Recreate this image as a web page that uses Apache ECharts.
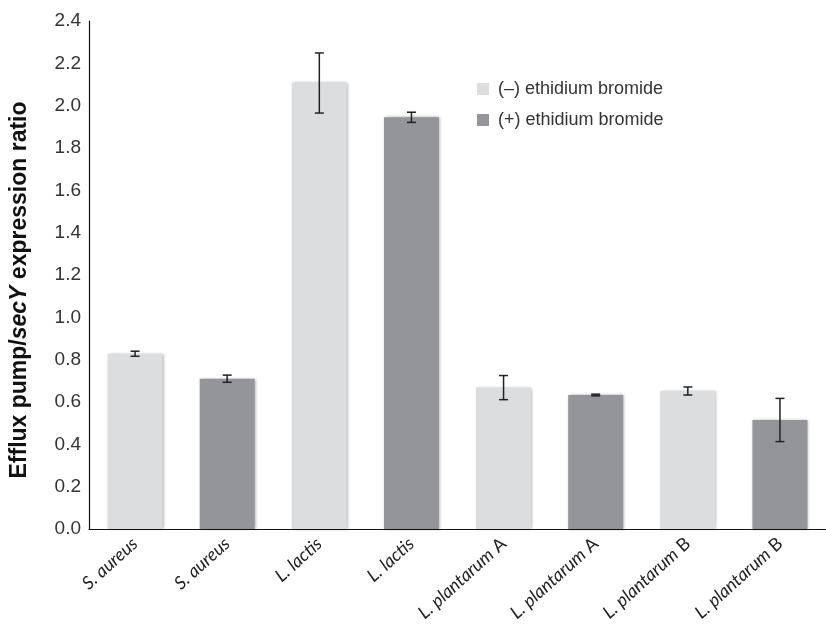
<!DOCTYPE html>
<html>
<head>
<meta charset="utf-8">
<script src="https://cdn.jsdelivr.net/npm/echarts@6/dist/echarts.min.js"></script>
<style>
  html, body { margin: 0; padding: 0; background: #fff; }
  #chart { width: 826px; height: 634px; }
</style>
</head>
<body>
<div id="chart"></div>
<script>
// strain names (italic part) and strain suffix (upright part)
const species = ['S. aureus', 'S. aureus', 'L. lactis', 'L. lactis',
  'L. plantarum', 'L. plantarum', 'L. plantarum', 'L. plantarum']
const suffix = ['', '', '', '', 'A', 'A', 'B', 'B']
const categories = species.map((s, i) => suffix[i] ? s + ' ' + suffix[i] : s)

// expression ratio, alternating (-) / (+) ethidium bromide
const ratio = [0.828, 0.71, 2.107, 1.945, 0.668, 0.633, 0.652, 0.515]
const ratioErr = [0.012, 0.017, 0.142, 0.024, 0.057, 0.004, 0.019, 0.102]
const treatment = ['minus', 'plus', 'minus', 'plus', 'minus', 'plus', 'minus', 'plus']

const yTicks = [0, 0.2, 0.4, 0.6, 0.8, 1.0, 1.2, 1.4, 1.6, 1.8, 2.0, 2.2, 2.4]

const seriesNames = { minus: '(–) ethidium bromide', plus: '(+) ethidium bromide' }
const colors = { minus: '#dcdddf', plus: '#939598' }

const chart = echarts.init(document.getElementById('chart'))

function barSeries(key) {
  return {
    name: seriesNames[key],
    type: 'bar',
    barWidth: 55,
    barGap: '-100%',
    itemStyle: {
      color: colors[key],
      shadowBlur: 3,
      shadowOffsetX: 1,
      shadowColor: 'rgba(0,0,0,0.35)'
    },
    data: ratio.map((v, i) => (treatment[i] === key ? v : '-'))
  }
}

chart.setOption({
  animation: false,
  grid: { left: 83, right: -9, top: 21, bottom: 105 },
  legend: {
    orient: 'vertical',
    left: 472,
    top: 75,
    itemWidth: 12,
    itemHeight: 12,
    itemGap: 13,
    icon: 'rect',
    textStyle: { fontFamily: 'Liberation Sans', fontSize: 18, color: '#333', padding: [0, 0, 0, 4] },
    data: [seriesNames.minus, seriesNames.plus]
  },
  xAxis: {
    type: 'category',
    data: categories,
    axisLine: { lineStyle: { color: '#111', width: 1.2 } },
    axisTick: { show: false },
    axisLabel: {
      rotate: 42,
      margin: 12,
      interval: 0,
      formatter: (v, i) => '{i|' + species[i] + '}' + (suffix[i] ? '{n| ' + suffix[i] + '}' : ''),
      rich: {
        i: { fontFamily: 'Lato', fontStyle: 'italic', fontSize: 18, color: '#222' },
        n: { fontFamily: 'Lato', fontSize: 18, color: '#222' }
      }
    }
  },
  yAxis: {
    type: 'value',
    min: 0,
    max: 2.4,
    interval: 0.2,
    name: '{b|Efflux pump/}{bi|secY}{b| expression ratio}',
    nameLocation: 'middle',
    nameGap: 58,
    nameRotate: 90,
    nameTextStyle: {
      padding: [0, 30, 0, 0],
      rich: {
        b: { fontFamily: 'Liberation Sans', fontWeight: 'bold', fontSize: 23, color: '#111' },
        bi: { fontFamily: 'Liberation Sans', fontWeight: 'bold', fontStyle: 'italic', fontSize: 23, color: '#111' }
      }
    },
    axisLine: { show: true, lineStyle: { color: '#111', width: 1.2 } },
    axisTick: { show: false },
    splitLine: { show: false },
    axisLabel: {
      margin: 8,
      fontFamily: 'Liberation Sans',
      fontSize: 19,
      color: '#333',
      formatter: v => (yTicks.some(t => Math.abs(t - v) < 1e-6) ? v.toFixed(1) : '')
    }
  },
  series: [
    barSeries('minus'),
    barSeries('plus'),
    {
      type: 'custom',
      name: 'error',
      z: 5,
      renderItem(params, api) {
        const i = api.value(0)
        const lo = api.coord([i, api.value(1)])
        const hi = api.coord([i, api.value(2)])
        const cap = 4.5
        const style = { stroke: '#222', lineWidth: 1.5 }
        return {
          type: 'group',
          children: [
            { type: 'line', shape: { x1: lo[0], y1: lo[1], x2: hi[0], y2: hi[1] }, style },
            { type: 'line', shape: { x1: lo[0] - cap, y1: lo[1], x2: lo[0] + cap, y2: lo[1] }, style },
            { type: 'line', shape: { x1: hi[0] - cap, y1: hi[1], x2: hi[0] + cap, y2: hi[1] }, style }
          ]
        }
      },
      data: ratio.map((v, i) => [i, v - ratioErr[i], v + ratioErr[i]])
    }
  ]
})
</script>
</body>
</html>
